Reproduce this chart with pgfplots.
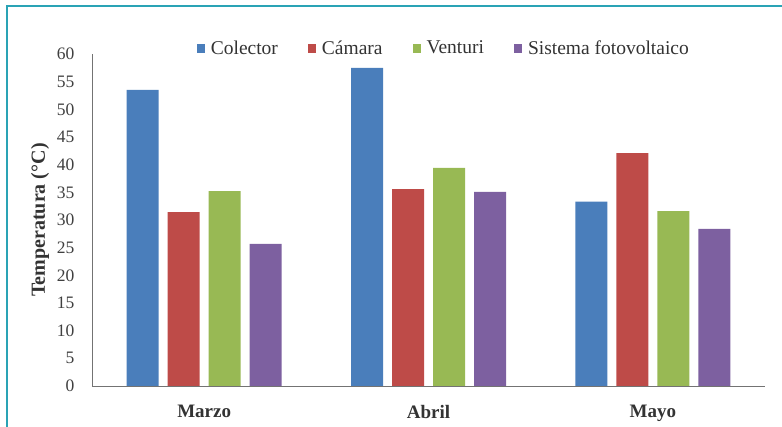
\documentclass[border=0pt]{standalone}
\usepackage{pgfplots}
\pgfplotsset{compat=1.18}
\usepackage{fontspec}
\setmainfont{Liberation Serif}
\definecolor{cB}{HTML}{4A7EBB}
\definecolor{cR}{HTML}{BE4B48}
\definecolor{cG}{HTML}{98B954}
\definecolor{cP}{HTML}{7D60A0}
\definecolor{frame}{HTML}{2AA3B5}
\begin{document}
\begin{tikzpicture}[x=1pt,y=1pt]
\path[use as bounding box] (-92,-41) rectangle (690,386);
\draw[frame,line width=1.2pt] (-85,-41) -- (-85,380) -- (690,380);
\begin{axis}[
  at={(0,0)}, anchor=south west,
  scale only axis, width=673pt, height=332pt,
  xmin=-0.5, xmax=2.5, ymin=0, ymax=60,
  ytick={0,5,...,60},
  xtick={0,1,2}, xticklabels={Marzo,Abril,Mayo},
  xticklabel style={font=\fontsize{19}{19}\selectfont\bfseries, color=black!80, yshift=-16pt},
  yticklabel style={font=\fontsize{17.5}{17.5}\selectfont, color=black!75, xshift=-14pt},
  /pgf/number format/assume math mode=true,
  major tick length=0pt,
  axis x line*=bottom, axis y line*=left,
  axis line style={draw=black!55, line width=0.8pt, -},
  ylabel={\bfseries Temperatura (°C)},
  ylabel style={font=\fontsize{20}{20}\selectfont, color=black!80, at={(axis description cs:-0.0773,0.5)}, anchor=center},
  ybar=9pt, bar width=32pt,
  legend style={at={(0.151,1.018)}, anchor=west, draw=none, fill=none,
    legend columns=-1, font=\fontsize{19.5}{19.5}\selectfont, text=black!80,
    /tikz/every odd column/.append style={column sep=4pt},
    /tikz/every even column/.append style={column sep=28pt}},
  legend image code/.code={\fill[#1] (0pt,-4.5pt) rectangle (8pt,4.5pt);},
]
\addplot[fill=cB, draw=none] coordinates {(0,53.5) (1,57.5) (2,33.3)};
\addplot[fill=cR, draw=none] coordinates {(0,31.4) (1,35.6) (2,42.1)};
\addplot[fill=cG, draw=none] coordinates {(0,35.2) (1,39.4) (2,31.6)};
\addplot[fill=cP, draw=none] coordinates {(0,25.7) (1,35.1) (2,28.4)};
\legend{Colector,Cámara,Venturi,Sistema fotovoltaico}
\end{axis}
\end{tikzpicture}
\end{document}
